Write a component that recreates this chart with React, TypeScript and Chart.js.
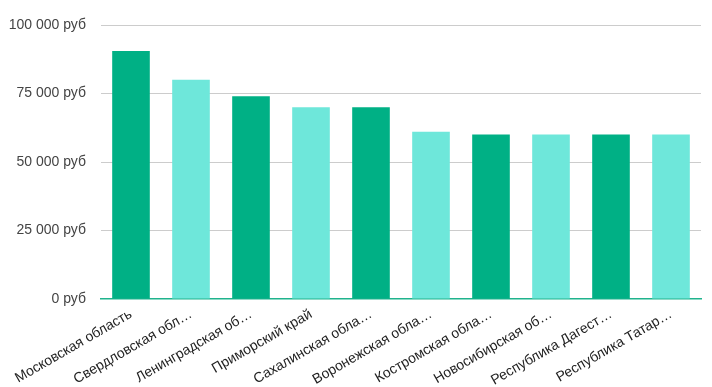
import React, { useEffect, useRef } from "react";
import { Chart, registerables } from "chart.js";

Chart.register(...registerables);

const categories = [
  "Московская область",
  "Свердловская обл…",
  "Ленинградская об…",
  "Приморский край",
  "Сахалинская обла…",
  "Воронежская обла…",
  "Костромская обла…",
  "Новосибирская об…",
  "Республика Дагест…",
  "Республика Татар…",
];

const values = [90500, 80000, 74000, 70000, 70000, 61000, 60000, 60000, 60000, 60000];

const barColors = [
  "#00b085", "#6ee7da", "#00b085", "#6ee7da", "#00b085",
  "#6ee7da", "#00b085", "#6ee7da", "#00b085", "#6ee7da",
];

const yTicks = [0, 25000, 50000, 75000, 100000];

function fmt(v: number): string {
  const s = Math.round(v).toString();
  return s.replace(/\B(?=(\d{3})+(?!\d))/g, " ") + " руб";
}

export default function App() {
  const ref = useRef<HTMLCanvasElement | null>(null);

  useEffect(() => {
    document.body.style.margin = "0";
    const canvas = ref.current;
    if (!canvas) return;
    const chart = new Chart(canvas, {
      type: "bar",
      data: {
        labels: categories,
        datasets: [
          {
            data: values,
            backgroundColor: barColors,
            borderWidth: 0,
            barPercentage: 0.627,
            categoryPercentage: 1,
          },
        ],
      },
      options: {
        animation: false,
        responsive: false,
        maintainAspectRatio: false,
        layout: { padding: { top: 25, right: 11, left: 0, bottom: 0 } },
        plugins: {
          legend: { display: false },
          tooltip: { enabled: false },
        },
        scales: {
          x: {
            grid: { display: false, drawTicks: false },
            border: { display: true, color: "#1fb38d", width: 1.5 },
            ticks: {
              autoSkip: false,
              minRotation: 30,
              maxRotation: 30,
              padding: 7,
              color: "#222222",
              font: { family: "'Liberation Sans', Arial, sans-serif", size: 14 },
            },
            afterFit: (scale: any) => {
              scale.height = 88;
            },
          },
          y: {
            min: 0,
            max: 100000,
            afterBuildTicks: (scale: any) => {
              scale.ticks = yTicks.map((v) => ({ value: v }));
            },
            grid: {
              drawTicks: false,
              color: (ctx: any) => (ctx.tick && ctx.tick.value === 0 ? "rgba(0,0,0,0)" : "#cccccc"),
            },
            border: { display: false },
            ticks: {
              padding: 15,
              color: "#444444",
              font: { family: "'Liberation Sans', Arial, sans-serif", size: 14 },
              callback: (v: any) => fmt(Number(v)),
            },
            afterFit: (scale: any) => {
              scale.width = 101;
            },
          },
        },
      },
    });
    return () => chart.destroy();
  }, []);

  return (
    <div style={{ width: 712, height: 387 }}>
      <canvas ref={ref} width={712} height={387} style={{ width: 712, height: 387, display: "block" }} />
    </div>
  );
}
